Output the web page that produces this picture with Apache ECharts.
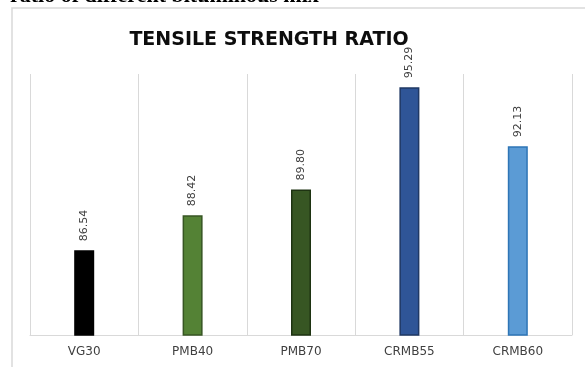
<!DOCTYPE html>
<html>
<head>
<meta charset="utf-8">
<script src="https://cdn.jsdelivr.net/npm/echarts@6/dist/echarts.min.js"></script>
<style>
  html, body { margin: 0; padding: 0; background: #fff; }
  #chart { width: 585px; height: 367px; }
</style>
</head>
<body>
<div id="chart"></div>
<script>
// data
const categories = ['VG30', 'PMB40', 'PMB70', 'CRMB55', 'CRMB60']
const tsrValues = [86.54, 88.42, 89.80, 95.29, 92.13]
const barColors = ['#000000', '#548235', '#375623', '#2f5597', '#5b9bd5']
const barBorders = ['#000000', '#375623', '#1e3312', '#1f3864', '#2e75b6']

const myChart = echarts.init(document.getElementById('chart'))

myChart.setOption({
  animation: false,
  title: {
    text: 'TENSILE STRENGTH RATIO',
    left: 264,
    top: 26,
    textAlign: 'center',
    textStyle: {
      fontFamily: 'DejaVu Sans',
      fontWeight: 'bold',
      fontSize: 19,
      color: '#0d0d0d',
    },
  },
  graphic: [
    {
      // frame of the chart box
      type: 'rect',
      shape: { x: 12, y: 8, width: 600, height: 400 },
      style: { fill: 'none', stroke: '#d9d9d9', lineWidth: 1.5 },
    },
    {
      // caption line of the page, cut by the crop
      type: 'text',
      left: 10,
      top: -15,
      style: {
        text: 'ratio of different bituminous mix',
        font: 'bold 22px "Liberation Serif"',
        fill: '#000',
      },
    },
  ],
  grid: {
    left: 30,
    right: 13,
    top: 74,
    bottom: 32,
  },
  xAxis: {
    type: 'category',
    data: categories,
    axisLine: { lineStyle: { color: '#d9d9d9', width: 1 } },
    axisTick: { show: false },
    axisLabel: {
      color: '#404040',
      fontSize: 12,
      fontFamily: 'DejaVu Sans',
      margin: 11,
    },
    splitLine: {
      show: true,
      lineStyle: { color: '#d9d9d9', width: 1 },
    },
  },
  yAxis: {
    type: 'value',
    min: 82,
    max: 96,
    show: false,
    splitLine: { show: false },
  },
  series: [
    {
      type: 'bar',
      barWidth: 20,
      data: tsrValues.map((v, i) => ({
        value: v,
        itemStyle: {
          color: barColors[i],
          borderColor: barBorders[i],
          borderWidth: 1.5,
        },
      })),
      label: {
        show: true,
        position: 'top',
        rotate: 90,
        align: 'left',
        verticalAlign: 'middle',
        distance: 9,
        fontSize: 11,
        fontFamily: 'DejaVu Sans',
        color: '#404040',
        formatter: (p) => p.value.toFixed(2),
      },
    },
  ],
})
</script>
</body>
</html>
